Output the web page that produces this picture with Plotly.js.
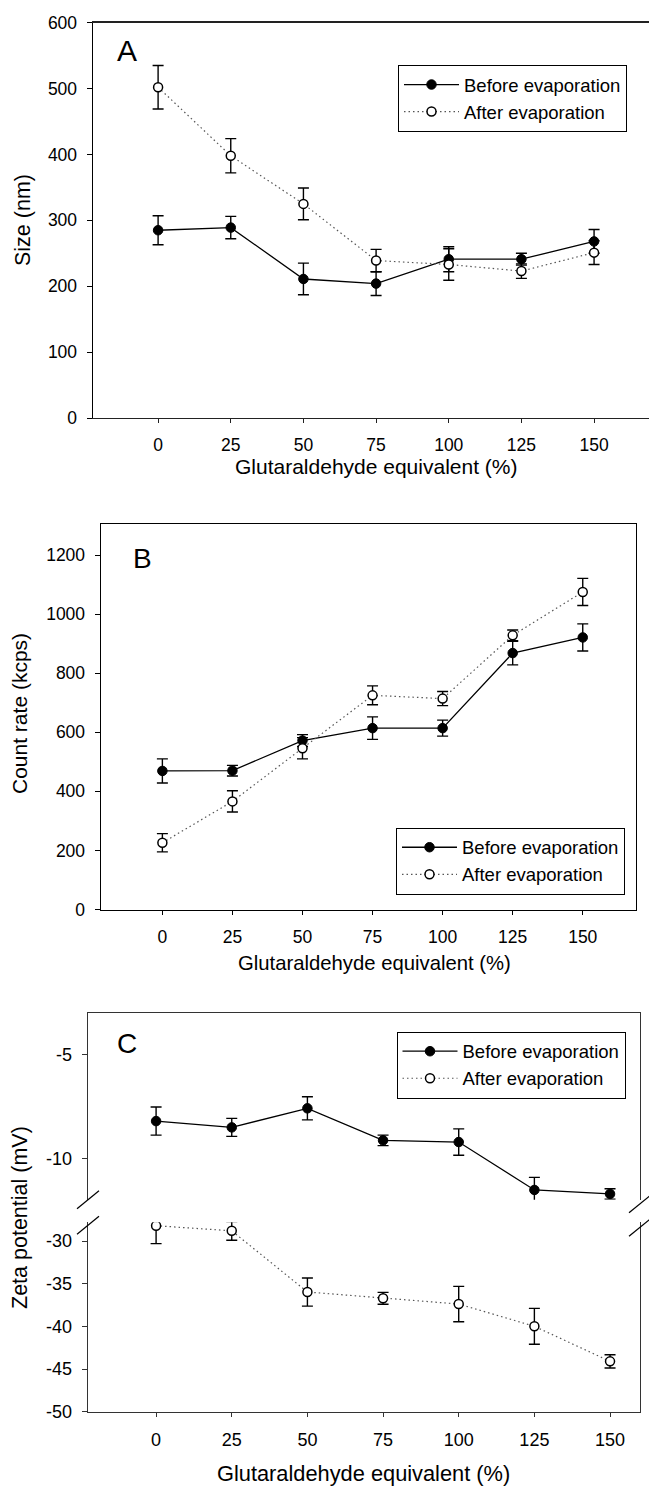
<!DOCTYPE html>
<html>
<head>
<meta charset="utf-8">
<script src="https://cdn.plot.ly/plotly-3.0.1.min.js"></script>
<style>
  html, body { margin: 0; padding: 0; background: #fff; }
  #chart { width: 649px; height: 1486px; }
</style>
</head>
<body>
<div id="chart"></div>
<script>
// ---------------- data ----------------
const glutaraldehyde = [0, 25, 50, 75, 100, 125, 150];
const xTickVals = [0, 25, 50, 75, 100, 125, 150];
const xTickText = ['0', '25', '50', '75', '100', '125', '150'];

// Panel A: size (nm)
const sizeBefore    = [285, 289, 211, 204, 241, 241, 268];
const sizeBeforeErr = [22, 17, 24, 18, 19, 9, 18];
const sizeAfter     = [502, 398, 325, 239, 233, 223, 251];
const sizeAfterErr  = [33, 26, 24, 17, 24, 11, 18];
const sizeTickVals  = [0, 100, 200, 300, 400, 500, 600];
const sizeTickText  = ['0', '100', '200', '300', '400', '500', '600'];

// Panel B: count rate (kcps)
const countBefore    = [469, 470, 572, 614, 614, 868, 921];
const countBeforeErr = [41, 18, 20, 38, 27, 40, 46];
const countAfter     = [226, 366, 546, 725, 714, 928, 1075];
const countAfterErr  = [31, 36, 36, 32, 24, 18, 46];
const countTickVals  = [0, 200, 400, 600, 800, 1000, 1200];
const countTickText  = ['0', '200', '400', '600', '800', '1000', '1200'];

// Panel C: zeta potential (mV)
const zetaBefore    = [-8.19, -8.49, -7.58, -9.11, -9.19, -11.48, -11.67];
const zetaBeforeErr = [0.67, 0.43, 0.55, 0.25, 0.63, 0.6, 0.25];
const zetaAfter     = [-28.2, -28.8, -35.97, -36.71, -37.38, -39.99, -44.1];
const zetaAfterErr  = [2.1, 1.1, 1.65, 0.7, 2.07, 2.1, 0.78];
const zetaUpperTickVals = [-5, -10];
const zetaUpperTickText = ['-5', '-10'];
const zetaLowerTickVals = [-30, -35, -40, -45, -50];
const zetaLowerTickText = ['-30', '-35', '-40', '-45', '-50'];

const seriesNames = ['Before evaporation', 'After evaporation'];
const xTitle = 'Glutaraldehyde equivalent (%)';

// ---------------- layout helpers ----------------
const W = 649, H = 1486;
const px = v => v / W;
const py = v => 1 - v / H;
const FONT = '"Liberation Sans", Arial, sans-serif';

function beforeTrace(y, err, xa, ya, lg) {
  return {
    type: 'scatter', mode: 'lines+markers', name: seriesNames[0],
    x: glutaraldehyde, y: y, xaxis: xa, yaxis: ya, legend: lg, showlegend: true,
    line: {color: '#000', width: 1.3, dash: 'solid'},
    marker: {symbol: 'circle', size: 9.5, color: '#000', line: {color: '#000', width: 1}},
    error_y: {type: 'data', array: err, visible: true, color: '#000', thickness: 1.4, width: 5.5},
    hoverinfo: 'skip'
  };
}
function afterTrace(y, err, xa, ya, lg) {
  return {
    type: 'scatter', mode: 'lines+markers', name: seriesNames[1],
    x: glutaraldehyde, y: y, xaxis: xa, yaxis: ya, legend: lg, showlegend: true,
    line: {color: '#555', width: 1.2, dash: '1.5px,3px'},
    marker: {symbol: 'circle', size: 9, color: '#fff', line: {color: '#000', width: 1.5}},
    error_y: {type: 'data', array: err, visible: true, color: '#000', thickness: 1.4, width: 5.5},
    hoverinfo: 'skip'
  };
}

const data = [
  beforeTrace(sizeBefore, sizeBeforeErr, 'x', 'y', 'legend'),
  afterTrace(sizeAfter, sizeAfterErr, 'x', 'y', 'legend'),
  beforeTrace(countBefore, countBeforeErr, 'x2', 'y2', 'legend2'),
  afterTrace(countAfter, countAfterErr, 'x2', 'y2', 'legend2'),
  beforeTrace(zetaBefore, zetaBeforeErr, 'x4', 'y3', 'legend3'),
  afterTrace(zetaAfter, zetaAfterErr, 'x3', 'y4', 'legend3')
];

function xAxis(domain, range, anchor, fs, lc, mirror) {
  return {
    domain: domain, range: range, anchor: anchor,
    tickmode: 'array', tickvals: xTickVals, ticktext: xTickText,
    ticks: 'outside', ticklen: 4, tickwidth: 1, tickcolor: lc,
    showline: true, linecolor: lc, linewidth: 1.4, mirror: mirror,
    showgrid: false, zeroline: false, ticklabelstandoff: 7,
    tickfont: {family: FONT, size: fs, color: '#000'}
  };
}
function yAxis(domain, range, anchor, vals, text, fs, lc, mirror) {
  return {
    domain: domain, range: range, anchor: anchor,
    tickmode: 'array', tickvals: vals, ticktext: text,
    ticks: 'outside', ticklen: 5, tickwidth: 1, tickcolor: lc,
    showline: true, linecolor: lc, linewidth: 1.4, mirror: mirror,
    showgrid: false, zeroline: false, ticklabelstandoff: 6,
    tickfont: {family: FONT, size: fs, color: '#000'}
  };
}
function legendBox(xp, yp) {
  return {
    x: px(xp), y: py(yp), xanchor: 'left', yanchor: 'top',
    bgcolor: '#fff', bordercolor: '#000', borderwidth: 1,
    font: {family: FONT, size: 18.5, color: '#000'},
    itemwidth: 55, tracegroupgap: 0
  };
}
function ann(text, xp, yp, size, angle) {
  return {
    text: text, x: px(xp), y: py(yp), xref: 'paper', yref: 'paper',
    xanchor: 'center', yanchor: 'middle', showarrow: false, textangle: angle || 0,
    font: {family: FONT, size: size, color: '#000'}
  };
}
function breakMark(xc, yc) {
  return {
    type: 'line', xref: 'paper', yref: 'paper',
    x0: px(xc - 11), y0: py(yc + 9), x1: px(xc + 11), y1: py(yc - 9),
    line: {color: '#000', width: 1.2}
  };
}

const cLeft = 88, cRight = 640, cUpperBottom = 1199.8, cLowerTop = 1222.3;

const layout = {
  width: W, height: H,
  margin: {l: 0, r: 0, t: 0, b: 0},
  paper_bgcolor: '#fff', plot_bgcolor: 'rgba(0,0,0,0)',
  font: {family: FONT, color: '#000'},
  showlegend: true,
  // Panel A
  xaxis: xAxis([px(93), 1], [-22.4, 168.9], 'y', 17.5, '#222', true),
  yaxis: yAxis([py(418), py(22.7)], [0, 600], 'x', sizeTickVals, sizeTickText, 17.5, '#000', false),
  // Panel B
  xaxis2: xAxis([px(101), px(636)], [-21.9, 169], 'y2', 17.5, '#000', true),
  yaxis2: yAxis([py(909.5), py(524.3)], [0, 1304], 'x2', countTickVals, countTickText, 17.5, '#000', true),
  // Panel C (broken y axis)
  xaxis3: xAxis([px(cLeft), px(cRight)], [-22.5, 159.9], 'y4', 18, '#333', false),
  xaxis4: {
    domain: [px(cLeft), px(cRight)], matches: 'x3', anchor: 'y3', side: 'top',
    showline: true, linecolor: '#333', linewidth: 1.4, ticks: '', showticklabels: false,
    showgrid: false, zeroline: false
  },
  yaxis3: yAxis([py(cUpperBottom), py(1013.3)], [-11.95, -3.04], 'x4', zetaUpperTickVals, zetaUpperTickText, 18, '#333', true),
  yaxis4: yAxis([py(1411.7), py(cLowerTop)], [-50, -27.8], 'x3', zetaLowerTickVals, zetaLowerTickText, 18, '#333', true),
  legend: legendBox(398, 65),
  legend2: legendBox(396, 827.7),
  legend3: legendBox(396.5, 1031.7),
  annotations: [
    ann('A', 127, 51, 30),
    ann('B', 142, 558, 28),
    ann('C', 127, 1043, 28),
    ann(xTitle, 376, 466, 21),
    ann(xTitle, 374.6, 963, 20.3),
    ann(xTitle, 363.6, 1473, 21.8),
    ann('Size (nm)', 23, 220, 21.5, -90),
    ann('Count rate (kcps)', 20, 714, 21, -90),
    ann('Zeta potential (mV)', 20, 1218, 21.5, -90)
  ],
  shapes: [
    breakMark(cLeft, cUpperBottom), breakMark(cLeft, cLowerTop + 3),
    breakMark(cRight, cUpperBottom + 4), breakMark(cRight, cLowerTop + 5)
  ]
};

Plotly.newPlot('chart', data, layout, {staticPlot: true, displayModeBar: false});
</script>
</body>
</html>
